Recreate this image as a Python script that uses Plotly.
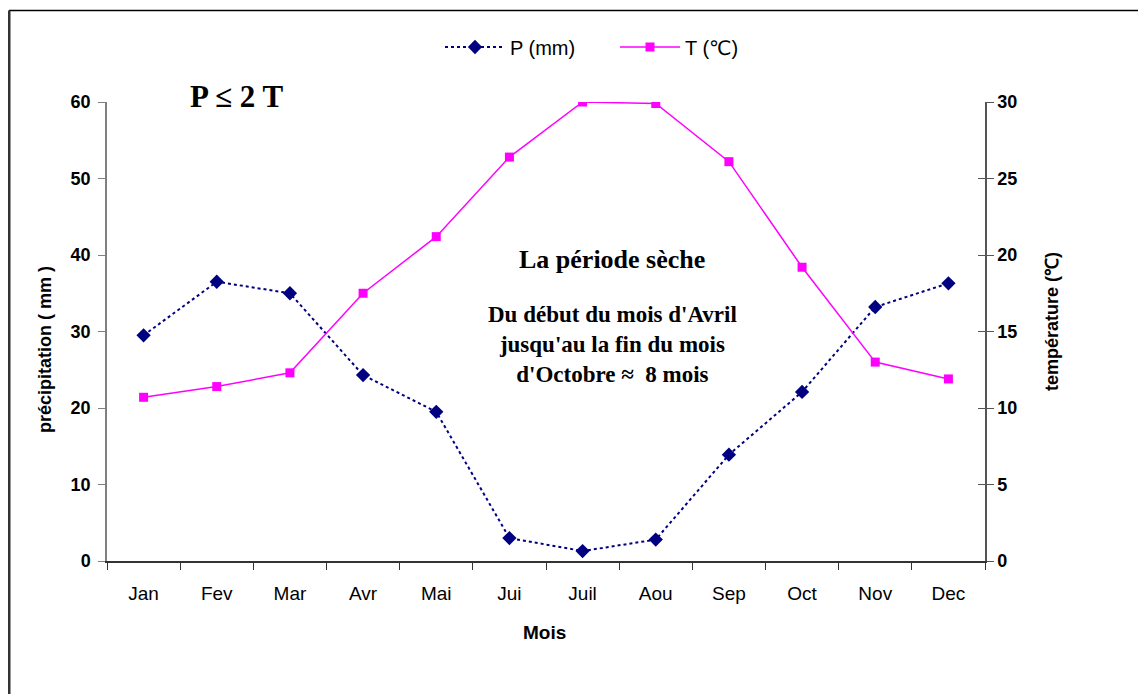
import plotly.graph_objects as go

months = ["Jan", "Fev", "Mar", "Avr", "Mai", "Jui", "Juil", "Aou", "Sep", "Oct", "Nov", "Dec"]
precip_mm = [29.5, 36.5, 35.0, 24.3, 19.5, 3.0, 1.3, 2.8, 13.9, 22.1, 33.2, 36.3]
temp_c = [10.7, 11.4, 12.3, 17.5, 21.2, 26.4, 30.0, 29.9, 26.1, 19.2, 13.0, 11.9]

# page has an 8px body margin; work in page pixel coordinates and offset
OFF = 8
W, H = 1146 - OFF, 694 - OFF
L, R, T, B = 107, 985, 102, 561  # plot area in page pixels

def px(x):
    return (x - L) / (R - L)

def py(y):
    return (B - y) / (B - T)

fig = go.Figure()
fig.add_trace(go.Scatter(
    x=months, y=precip_mm, name="P (mm)", mode="lines+markers",
    line=dict(color="#000080", width=2, dash="dot"),
    marker=dict(symbol="diamond", size=11, color="#000080"),
    yaxis="y",
))
fig.add_trace(go.Scatter(
    x=months, y=temp_c, name="T (℃)", mode="lines+markers",
    line=dict(color="#FF00FF", width=1.5),
    marker=dict(symbol="square", size=9, color="#FF00FF"),
    yaxis="y2",
))
# invisible helper trace so the inward tick set of the right axis is drawn
fig.add_trace(go.Scatter(
    x=months, y=temp_c, mode="lines", line=dict(width=0), opacity=0,
    showlegend=False, hoverinfo="skip", yaxis="y3",
))

sans = "Liberation Sans, Arial, sans-serif"

fig.update_layout(
    width=W, height=H,
    margin=dict(l=L - OFF, r=(W + OFF) - R, t=T - OFF, b=(H + OFF) - B),
    paper_bgcolor="white", plot_bgcolor="white",
    font=dict(family=sans, color="black"),
    showlegend=True,
    legend=dict(orientation="h", x=px(440), y=py(47), xanchor="left", yanchor="middle",
                font=dict(size=20, family="Liberation Sans, DejaVu Sans, sans-serif"),
                entrywidth=100, itemwidth=60, bgcolor="rgba(0,0,0,0)"),
    xaxis=dict(
        type="category", range=[-0.5, 11.5], tickson="boundaries",
        ticks="outside", ticklen=7, tickcolor="#333", tickwidth=1,
        showline=True, linecolor="#333", linewidth=1.5, showgrid=False,
        tickfont=dict(family=sans, size=19, color="black"),
        ticklabelstandoff=14,
        zeroline=False,
    ),
    yaxis=dict(
        range=[0, 60], dtick=10, showgrid=False, zeroline=False,
        showline=True, linecolor="#808080", linewidth=1.5,
        ticks="outside", ticklen=7, tickcolor="#808080",
        tickfont=dict(family=sans, size=18, color="black", weight="bold"),
        ticklabelstandoff=4,
    ),
    yaxis2=dict(
        range=[0, 30], dtick=5, overlaying="y", side="right", showgrid=False, zeroline=False,
        showline=True, linecolor="#555", linewidth=1.5,
        ticks="outside", ticklen=7, tickcolor="#555",
        tickfont=dict(family=sans, size=18, color="black", weight="bold"),
    ),
    yaxis3=dict(
        range=[0, 30], dtick=5, overlaying="y", side="right", anchor="x", showgrid=False,
        zeroline=False, showline=False, ticks="inside", ticklen=7, tickcolor="#555",
        showticklabels=False,
    ),
)

# axis titles placed as annotations
fig.add_annotation(xref="paper", yref="paper", x=px(544), y=py(632), text="<b>Mois</b>",
                   showarrow=False, xanchor="center", yanchor="middle",
                   font=dict(family=sans, size=19, color="black"))
fig.add_annotation(xref="paper", yref="paper", x=px(45), y=py(350), text="<b>précipitation ( mm )</b>",
                   showarrow=False, xanchor="center", yanchor="middle", textangle=-90,
                   font=dict(family=sans, size=18, color="black"))
fig.add_annotation(xref="paper", yref="paper", x=px(1052), y=py(322), text="<b>température (℃)</b>",
                   showarrow=False, xanchor="center", yanchor="middle", textangle=-90,
                   font=dict(family=sans, size=18, color="black"))

serif = "Liberation Serif, Times New Roman, serif"
fig.add_annotation(xref="paper", yref="paper", x=px(236), y=py(97), text="<b>P ≤ 2 T</b>",
                   showarrow=False, xanchor="center", yanchor="middle",
                   font=dict(family=serif, size=31, color="black"))
fig.add_annotation(xref="paper", yref="paper", x=px(612), y=py(259), text="<b>La période sèche</b>",
                   showarrow=False, xanchor="center", yanchor="middle",
                   font=dict(family=serif, size=26, color="black"))
fig.add_annotation(xref="paper", yref="paper", x=px(612), y=py(344),
                   text="<b>Du début du mois d'Avril<br>jusqu'au la fin du mois<br>d'Octobre ≈  8 mois</b>",
                   showarrow=False, align="center", xanchor="center", yanchor="middle",
                   font=dict(family=serif, size=23, color="black"))

# outer chart frame (top and left edges visible)
fig.add_shape(type="line", xref="paper", yref="paper", x0=px(9), x1=px(1160), y0=py(10.5), y1=py(10.5),
              line=dict(color="black", width=1.5))
fig.add_shape(type="line", xref="paper", yref="paper", x0=px(9), x1=px(9), y0=py(10.5), y1=py(700),
              line=dict(color="#333", width=3))

fig.write_html("out.html")
